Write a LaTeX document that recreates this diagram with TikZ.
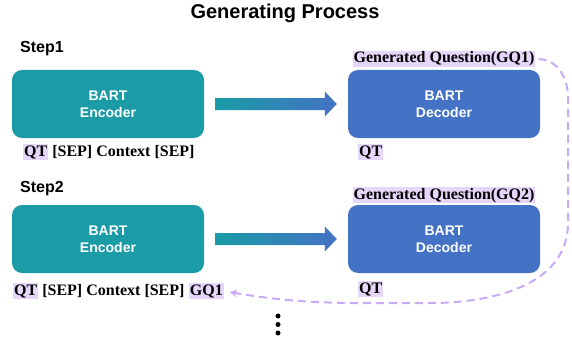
\documentclass[tikz,border=0pt]{standalone}
\usepackage{fontspec}
\setmainfont{Liberation Serif}
\setsansfont{Liberation Sans}
\usepackage{xcolor}
\usepackage{tikz}
\usetikzlibrary{calc, positioning, arrows.meta}

\definecolor{encTeal}{RGB}{26,155,166}
\definecolor{decBlue}{RGB}{68,114,196}
\definecolor{hlLilac}{RGB}{230,215,250}
\definecolor{loopLilac}{RGB}{200,170,245}

\newcommand{\hl}[1]{{\setlength{\fboxsep}{1pt}\colorbox{hlLilac}{#1}}}

\tikzset{
	modelBox/.style = {rounded corners = 10pt, minimum width = 192pt, minimum height = 68pt, text = white, align = center, font = \sffamily\bfseries\fontsize{14}{17}\selectfont},
	encBox/.style = {modelBox, fill = encTeal},
	decBox/.style = {modelBox, fill = decBlue},
	tok/.style = {inner sep = 0pt, font = \bfseries\fontsize{16}{19}\selectfont},
	stepLabel/.style = {inner sep = 0pt, anchor = base west, font = \sffamily\bfseries\fontsize{16}{19}\selectfont},
	feedback/.style = {loopLilac, line width = 2pt, dash pattern = on 8pt off 5pt, -{Stealth[length = 7pt, width = 8pt]}}
}

\begin{document}
\begin{tikzpicture}[x = 1pt, y = 1pt]
					\def\encX{108};
					\def\decX{444};
					\def\rowA{234};
					\def\rowB{99};

					\newcommand{\drawBlockArrow}[2]
					{
						\shade [left color = encTeal, right color = decBlue] ($(#1.east) + (11,6)$) -- ($(#2.west) + (-23,6)$) -- ($(#2.west) + (-23,12.5)$) -- ($(#2.west) + (-11,0)$) -- ($(#2.west) + (-23,-12.5)$) -- ($(#2.west) + (-23,-6)$) -- ($(#1.east) + (11,-6)$) -- cycle
					}

					\useasboundingbox (0,0) rectangle (572,338);

					\node [inner sep = 0pt, anchor = base, font = \sffamily\bfseries\fontsize{20}{24}\selectfont] (title) at (285,319) {Generating Process};

					% step 1
					\begin{scope}
						\node [stepLabel] (step1) at (20,285) {Step1};
						\node [encBox] (enc1) at (\encX,\rowA) {BART\\Encoder};
						\node [decBox] (dec1) at (\decX,\rowA) {BART\\Decoder};
						\node [tok, anchor = base west] (in1) at (23,182) {\hl{QT} [SEP] Context [SEP]};
						\node [tok, anchor = base west] (qt1) at (358,182) {\hl{QT}};
						\node [tok, anchor = base] (gq1) at (\decX,275) {\hl{Generated Question(GQ1)}};
						\drawBlockArrow{enc1}{dec1};
					\end{scope}

					% step 2
					\begin{scope}
						\node [stepLabel] (step2) at (20,146) {Step2};
						\node [encBox] (enc2) at (\encX,\rowB) {BART\\Encoder};
						\node [decBox] (dec2) at (\decX,\rowB) {BART\\Decoder};
						\node [tok, anchor = base west] (in2) at (13,43) {\hl{QT} [SEP] Context [SEP]};
						\node [tok, base right = 4pt of in2] (in2gq) {\hl{GQ1}};
						\node [tok, anchor = base west] (qt2) at (358,45) {\hl{QT}};
						\node [tok, anchor = base] (gq2) at (\decX,139) {\hl{Generated Question(GQ2)}};
						\drawBlockArrow{enc2}{dec2};
					\end{scope}

					% GQ1 fed back into the next input
					\coordinate (loopTop) at (568,241);
					\coordinate (loopBot) at (568,115);
					\coordinate (loopLow) at (430,35);
					\draw [feedback, shorten > = 6pt] ([xshift = 3pt]gq1.east) to [out = 0, in = 90] (loopTop) -- (loopBot) to [out = -90, in = 0] (loopLow) to [out = 180, in = -10] (in2gq.east);

					\foreach \d in {0,1,2}
						\fill (278,5 + \d*8.5) circle (2.5);

				\end{tikzpicture}
\end{document}
